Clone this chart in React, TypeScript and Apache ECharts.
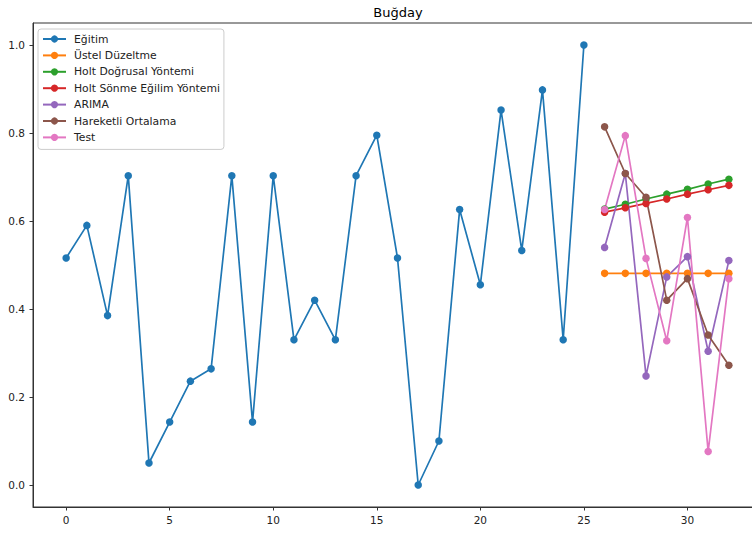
import React, { useEffect, useRef } from 'react';
import * as echarts from 'echarts';

const titleText = 'Buğday';
const trainX = [0, 1, 2, 3, 4, 5, 6, 7, 8, 9, 10, 11, 12, 13, 14, 15, 16, 17, 18, 19, 20, 21, 22, 23, 24, 25];
const trainY = [0.516, 0.59, 0.385, 0.703, 0.05, 0.143, 0.236, 0.264, 0.703, 0.143, 0.703, 0.33, 0.42, 0.33, 0.703, 0.795, 0.516, 0.0, 0.10, 0.626, 0.455, 0.852, 0.533, 0.898, 0.33, 1.0];
const testX = [26, 27, 28, 29, 30, 31, 32];
const ustel = [0.481, 0.481, 0.481, 0.481, 0.481, 0.481, 0.481];
const holtLin = [0.627, 0.638, 0.650, 0.661, 0.672, 0.684, 0.695];
const holtDamp = [0.620, 0.630, 0.640, 0.650, 0.661, 0.671, 0.681];
const arima = [0.540, 0.708, 0.248, 0.473, 0.519, 0.304, 0.510];
const moving = [0.814, 0.708, 0.654, 0.420, 0.469, 0.341, 0.272];
const test = [0.626, 0.794, 0.515, 0.328, 0.608, 0.076, 0.469];
const xTicks = [0, 5, 10, 15, 20, 25, 30];
const yTicks = [0.0, 0.2, 0.4, 0.6, 0.8, 1.0];

const seriesDefs = [
  { name: 'Eğitim', x: trainX, y: trainY, color: '#1f77b4' },
  { name: 'Üstel Düzeltme', x: testX, y: ustel, color: '#ff7f0e' },
  { name: 'Holt Doğrusal Yöntemi', x: testX, y: holtLin, color: '#2ca02c' },
  { name: 'Holt Sönme Eğilim Yöntemi', x: testX, y: holtDamp, color: '#d62728' },
  { name: 'ARIMA', x: testX, y: arima, color: '#9467bd' },
  { name: 'Hareketli Ortalama', x: testX, y: moving, color: '#8c564b' },
  { name: 'Test', x: testX, y: test, color: '#e377c2' },
];

const FONT = 'DejaVu Sans';

export default function App() {
  const ref = useRef<HTMLDivElement>(null);
  useEffect(() => {
    if (!ref.current) return;
    const chart = echarts.init(ref.current, undefined, { renderer: 'svg' });
    const axisCommon = {
      axisLine: { show: true, onZero: false, lineStyle: { color: '#333', width: 1 } },
      axisTick: { show: true, length: 3.5, lineStyle: { color: '#333', width: 1 } },
      splitLine: { show: false },
    };
    chart.setOption({
      animation: false,
      backgroundColor: '#fff',
      textStyle: { fontFamily: FONT },
      graphic: [
        {
          type: 'text',
          x: 398,
          y: 6,
          style: {
            text: titleText,
            align: 'center',
            verticalAlign: 'top',
            fontFamily: FONT,
            fontSize: 13,
            fill: '#000',
          },
        },
      ],
      grid: {
        left: 33,
        right: 0,
        top: 23,
        bottom: 26,
        show: true,
        borderColor: '#333',
        borderWidth: 1,
        outerBoundsMode: 'none',
      },
      legend: {
        orient: 'vertical',
        left: 38,
        top: 29,
        padding: [3, 4, 5, 4],
        itemWidth: 23,
        itemHeight: 9,
        itemGap: 2.4,
        backgroundColor: 'rgba(255,255,255,0.8)',
        borderColor: '#ccc',
        borderWidth: 1,
        borderRadius: 3,
        textStyle: { fontFamily: FONT, fontSize: 10.8, color: '#222', lineHeight: 14, padding: [0, 0, 0, 3] },
        data: seriesDefs.map((s) => s.name),
      },
      xAxis: {
        type: 'value',
        min: -1.6,
        max: 33.6,
        ...axisCommon,
        axisTick: { ...axisCommon.axisTick, customValues: xTicks },
        axisLabel: {
          customValues: xTicks,
          margin: 7,
          fontFamily: FONT,
          fontSize: 10.5,
          color: '#222',
          formatter: (v: number) => String(v),
        },
      },
      yAxis: {
        type: 'value',
        min: -0.05,
        max: 1.05,
        ...axisCommon,
        axisTick: { ...axisCommon.axisTick, customValues: yTicks },
        axisLabel: {
          customValues: yTicks,
          margin: 8,
          fontFamily: FONT,
          fontSize: 10.5,
          color: '#222',
          formatter: (v: number) => v.toFixed(1),
        },
      },
      series: seriesDefs.map((s) => ({
        name: s.name,
        type: 'line',
        data: s.x.map((xv, i) => [xv, s.y[i]]),
        symbol: 'circle',
        symbolSize: 7.5,
        showAllSymbol: true,
        color: s.color,
        lineStyle: { color: s.color, width: 1.7 },
        itemStyle: { color: s.color, borderWidth: 0 },
        emphasis: { disabled: true },
      })),
    });
    return () => chart.dispose();
  }, []);
  return (
    <div style={{ position: 'absolute', left: 0, top: 0, width: 752, height: 533, overflow: 'hidden', background: '#fff' }}>
      <div ref={ref} style={{ width: 762, height: 533 }} />
    </div>
  );
}
